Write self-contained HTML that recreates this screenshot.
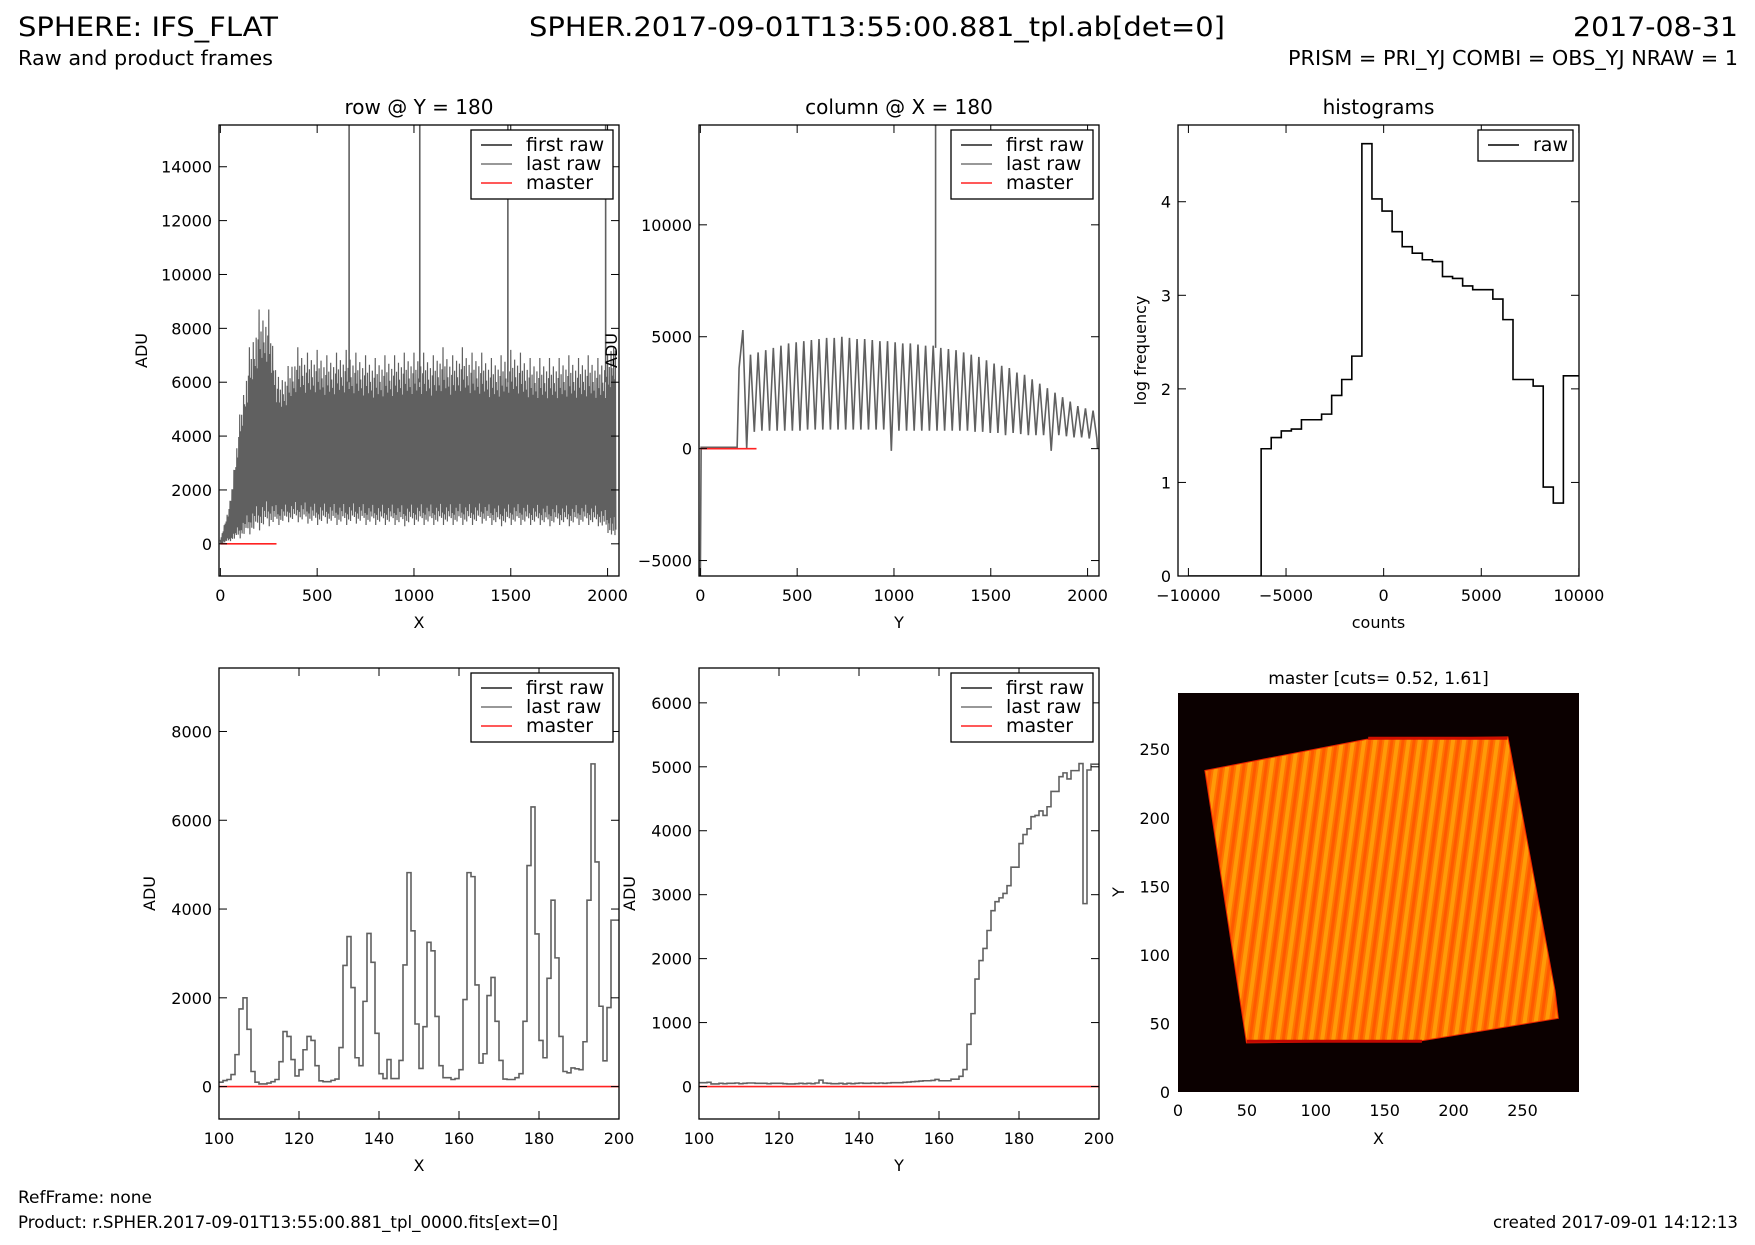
<!DOCTYPE html>
<html><head><meta charset="utf-8"><style>
html,body{margin:0;padding:0;background:#fff;}
svg{display:block;font-family:"DejaVu Sans","Liberation Sans",sans-serif;}
</style></head><body>
<svg id="fig" width="1755" height="1245" viewBox="0 0 1755 1245" xmlns="http://www.w3.org/2000/svg">
<defs>
<pattern id="stripes" patternUnits="userSpaceOnUse" width="11" height="40" patternTransform="rotate(8)">
<rect x="0" y="0" width="11" height="40" fill="#ff7400"/>
<rect x="0" y="0" width="4" height="40" fill="#ff9a08"/>
<rect x="6" y="0" width="3" height="40" fill="#ff5a00"/>
</pattern>
</defs>
<text x="18" y="36" font-size="27" textLength="260" lengthAdjust="spacingAndGlyphs">SPHERE: IFS_FLAT</text>
<text x="877" y="36" font-size="27" text-anchor="middle" textLength="696" lengthAdjust="spacingAndGlyphs">SPHER.2017-09-01T13:55:00.881_tpl.ab[det=0]</text>
<text x="1738" y="36" font-size="27" text-anchor="end" textLength="165" lengthAdjust="spacingAndGlyphs">2017-08-31</text>
<text x="18" y="65" font-size="20" textLength="255" lengthAdjust="spacingAndGlyphs">Raw and product frames</text>
<text x="1738" y="65" font-size="20" text-anchor="end" textLength="450" lengthAdjust="spacingAndGlyphs">PRISM = PRI_YJ COMBI = OBS_YJ NRAW = 1</text>
<text x="18" y="1203" font-size="17">RefFrame: none</text>
<text x="18" y="1228" font-size="17" textLength="540" lengthAdjust="spacingAndGlyphs">Product: r.SPHER.2017-09-01T13:55:00.881_tpl_0000.fits[ext=0]</text>
<text x="1738" y="1228" font-size="17" text-anchor="end" textLength="245" lengthAdjust="spacingAndGlyphs">created 2017-09-01 14:12:13</text>
</svg>
<script>
// ---- data ----
const rowBinX = [0,50,100,150,200,250,300,350,400,450,500,550,600,650,700,750,800,850,900,950,1000,1050,1100,1150,1200,1250,1300,1350,1400,1450,1500,1550,1600,1650,1700,1750,1800,1850,1900,1950,2000,2045];
const rowHi = [150,1600,4800,7300,8700,8700,6200,6600,7300,7100,7200,7000,7100,7200,7100,7000,6900,7000,7000,7100,7100,7100,7000,7300,7000,7300,7100,7100,6900,7000,7200,7100,6900,6900,6900,6900,7000,6900,7000,6900,7000,8300];
const rowLo = [0,100,200,350,500,650,700,800,800,750,700,750,700,700,750,700,700,700,700,650,700,700,700,700,700,700,700,750,700,650,700,700,700,700,650,700,650,700,700,650,400,-100];
const rowSpikeX = [665,1030,1485,1990];
const rowMasterEnd = 290;

const colPeaks = [5300,4200,4300,4400,4500,4600,4700,4750,4800,4850,4900,4950,4950,5000,4950,4900,4900,4850,4800,4800,4750,4700,4700,4650,4600,4600,4500,4450,4400,4300,4200,4100,3950,3800,3700,3600,3400,3300,3100,2900,2700,2500,2300,2100,1900,1800,1700];
const colTroughs = [3600,0,750,800,800,800,800,800,800,850,850,850,850,850,850,850,850,850,850,850,-100,800,800,800,800,800,800,800,800,800,800,750,750,700,700,600,700,650,600,600,600,-100,600,550,500,500,450];
const colSpikeY = [1215];
const colStart = 200, colEnd = 2048;

const histCounts = [1.36,1.48,1.55,1.57,1.67,1.67,1.73,1.93,2.1,2.35,4.62,4.03,3.9,3.68,3.52,3.45,3.38,3.36,3.2,3.18,3.1,3.06,3.06,2.96,2.74,2.1,2.1,2.03,0.95,0.78,2.14,2.14];
const histStart = -6275, histWidth = 516, histFloorStart = -10000;

const zoomRowX0 = 100;
const zoomRow = [100,135,160,270,720,1750,2000,1290,340,100,60,60,80,110,160,560,1240,1130,610,240,380,830,1130,1040,470,130,110,110,140,170,880,2730,3380,2230,650,470,1920,3450,2800,1200,290,180,610,180,180,590,2740,4820,3510,1410,410,1350,3250,3060,1580,470,200,200,160,180,380,1960,4820,4730,2290,530,740,2050,2460,1470,590,170,160,160,200,290,1470,4980,6300,3440,1040,650,2440,4200,2900,1130,340,310,420,400,380,1010,4200,7270,5060,1810,580,1780,3750,3750];
const zoomColX0 = 100;
const zoomCol = [60,60,65,40,40,50,45,50,50,55,45,50,55,55,50,50,50,45,50,50,50,45,40,40,45,50,45,50,45,55,100,55,50,45,45,50,40,50,45,50,55,50,50,55,50,55,50,55,60,60,60,65,70,75,80,85,90,90,95,110,90,90,90,115,115,160,265,660,1140,1680,1970,2160,2440,2750,2890,2950,3020,3140,3430,3430,3800,3940,4030,4220,4240,4310,4240,4375,4615,4615,4845,4905,4810,4940,4940,5050,2860,4950,5040,5040];

const imgOutline = [[19.5,234.5],[136.8,257.3],[239.4,259],[273.6,74],[276,53.7],[177.5,37.5],[49.7,35.8]];

// ---- helpers ----
const NS = 'http://www.w3.org/2000/svg';
const fig = document.getElementById('fig');
function el(tag, attrs, parent){
  const e = document.createElementNS(NS, tag);
  for (const k in attrs) e.setAttribute(k, attrs[k]);
  (parent || fig).appendChild(e);
  return e;
}
function axes(L,R,T,B,xmin,xmax,ymin,ymax){
  return {L,R,T,B,xmin,xmax,ymin,ymax,
    sx: v => L + (v - xmin) / (xmax - xmin) * (R - L),
    sy: v => B - (v - ymin) / (ymax - ymin) * (B - T)};
}
let clipN = 0;
function frame(a, name){
  const g = el('g', {});
  
  
  const cp = el('clipPath', {id: 'cp' + clipN});
  el('rect', {x: a.L, y: a.T, width: a.R - a.L, height: a.B - a.T}, cp);
  const inner = el('g', {'clip-path': 'url(#cp' + clipN + ')'}, g);
  clipN++;
  return {g, inner};
}
function border(a, g){
  const r = el('rect', {x: a.L, y: a.T, width: a.R - a.L, height: a.B - a.T, fill: 'none', stroke: '#000', 'stroke-width': 1.3}, g);
  
  
}
function ticks(a, g, xt, yt, xlab, ylab, ylabX){
  xt.forEach(v => {
    const x = a.sx(v);
    el('line', {x1: x, x2: x, y1: a.B, y2: a.B - 8, stroke: '#000', 'stroke-width': 1}, g);
    el('line', {x1: x, x2: x, y1: a.T, y2: a.T + 8, stroke: '#000', 'stroke-width': 1}, g);
    const t = el('text', {x: x, y: a.B + 25, 'font-size': 16, 'text-anchor': 'middle'}, g);
    t.textContent = v < 0 ? '\u2212' + Math.abs(v) : String(v);
    
    
  });
  yt.forEach(v => {
    const y = a.sy(v);
    el('line', {x1: a.L, x2: a.L + 8, y1: y, y2: y, stroke: '#000', 'stroke-width': 1}, g);
    el('line', {x1: a.R, x2: a.R - 8, y1: y, y2: y, stroke: '#000', 'stroke-width': 1}, g);
    const t = el('text', {x: a.L - 7, y: y + 6, 'font-size': 16, 'text-anchor': 'end'}, g);
    t.textContent = v < 0 ? '\u2212' + Math.abs(v) : String(v);
    
    
  });
  const xl = el('text', {x: (a.L + a.R) / 2, y: a.B + 52, 'font-size': 16, 'text-anchor': 'middle'}, g);
  xl.textContent = xlab;
  
  
  const cy = (a.T + a.B) / 2;
  const yl = el('text', {x: ylabX, y: cy, 'font-size': 16, 'text-anchor': 'middle', transform: 'rotate(-90 ' + ylabX + ' ' + cy + ')'}, g);
  yl.textContent = ylab;
  
  
}
function title(a, g, txt, size, dy){
  const t = el('text', {x: (a.L + a.R) / 2, y: a.T - (dy || 11), 'font-size': size || 20, 'text-anchor': 'middle'}, g);
  t.textContent = txt;
  
  
}
function legend(a, g, entries, w){
  const lg = el('g', {}, g);
  
  
  const x0 = a.R - 6 - w, y0 = a.T + 5;
  el('rect', {x: x0, y: y0, width: w, height: 12 + entries.length * 19, fill: '#fff', stroke: '#000', 'stroke-width': 1.3}, lg);
  entries.forEach((en, i) => {
    const y = y0 + 15 + i * 19;
    el('line', {x1: x0 + 10, x2: x0 + 41, y1: y, y2: y, stroke: en[1], 'stroke-width': 1.6}, lg);
    const t = el('text', {x: x0 + 55, y: y + 6, 'font-size': 19}, lg);
    t.textContent = en[0];
    
    
  });
}
const LEG3 = [['first raw', '#222'], ['last raw', '#777'], ['master', '#f22']];
const GRAY = '#606060';

// ---- panel 1: row ----
(function(){
  const a = axes(219, 619, 125, 576, -7, 2059, -1195, 15550);
  const f = frame(a, 'row-plot');
  const fh = [1, 0.82, 0.9, 0.78, 0.95, 0.85, 0.8, 0.92, 0.76, 0.88];
  const fl = [0, 0.06, 0.03, 0.1, 0.02, 0.08, 0.05, 0.12, 0.04, 0.07];
  let pts = [];
  for (let i = 0; i < rowBinX.length - 1; i++) {
    const x0 = rowBinX[i], x1 = rowBinX[i + 1];
    for (let k = 0; k < 10; k++) {
      const x = x0 + (x1 - x0) * k / 10;
      const t = k / 10;
      const hi = rowHi[i] + (rowHi[i + 1] - rowHi[i]) * t;
      const lo = rowLo[i] + (rowLo[i + 1] - rowLo[i]) * t;
      pts.push(a.sx(x) + ',' + a.sy(lo + (hi - lo) * fh[k]));
      pts.push(a.sx(x + (x1 - x0) / 20) + ',' + a.sy(lo + (hi - lo) * fl[k]));
    }
  }
  const pl = el('polyline', {points: pts.join(' '), fill: 'none', stroke: GRAY, 'stroke-width': 1.2}, f.inner);
  
  
  rowSpikeX.forEach(x => {
    const s = el('line', {x1: a.sx(x), x2: a.sx(x), y1: a.sy(6000), y2: a.sy(16000), stroke: GRAY, 'stroke-width': 1.6}, f.inner);
    
    
  });
  const m = el('line', {x1: a.sx(0), x2: a.sx(rowMasterEnd), y1: a.sy(0), y2: a.sy(0), stroke: '#f22', 'stroke-width': 1.6}, f.inner);
  
  
  border(a, f.g);
  ticks(a, f.g, [0, 500, 1000, 1500, 2000], [0, 2000, 4000, 6000, 8000, 10000, 12000, 14000], 'X', 'ADU', 147);
  title(a, f.g, 'row @ Y = 180');
  legend(a, f.g, LEG3, 142);
})();

// ---- panel 2: column ----
(function(){
  const a = axes(699, 1099, 125, 576, -7, 2059, -5690, 14460);
  const f = frame(a, 'column-plot');
  const per = (colEnd - colStart) / colPeaks.length;
  let pts = [[0, -5690], [4, 60], [190, 60]];
  for (let i = 0; i < colPeaks.length; i++) {
    pts.push([colStart + i * per, colTroughs[i]]);
    pts.push([colStart + (i + 0.5) * per, colPeaks[i]]);
  }
  pts.push([colEnd, colTroughs[colTroughs.length - 1]]);
  pts.push([colEnd + 3, 0]);
  const pl = el('polyline', {points: pts.map(p => a.sx(p[0]) + ',' + a.sy(p[1])).join(' '), fill: 'none', stroke: GRAY, 'stroke-width': 1.6}, f.inner);
  
  
  colSpikeY.forEach(x => {
    const s = el('line', {x1: a.sx(x), x2: a.sx(x), y1: a.sy(4500), y2: a.sy(15000), stroke: GRAY, 'stroke-width': 1.6}, f.inner);
    
    
  });
  const m = el('line', {x1: a.sx(0), x2: a.sx(290), y1: a.sy(0), y2: a.sy(0), stroke: '#f22', 'stroke-width': 1.6}, f.inner);
  
  
  border(a, f.g);
  ticks(a, f.g, [0, 500, 1000, 1500, 2000], [-5000, 0, 5000, 10000], 'Y', 'ADU', 617);
  title(a, f.g, 'column @ X = 180');
  legend(a, f.g, LEG3, 142);
})();

// ---- panel 3: histogram ----
(function(){
  const a = axes(1178, 1579, 125, 576, -10533, 10005, 0, 4.82);
  const f = frame(a, 'histogram-plot');
  let pts = [[histFloorStart, 0], [histStart, 0]];
  histCounts.forEach((c, i) => {
    pts.push([histStart + i * histWidth, c]);
    pts.push([histStart + (i + 1) * histWidth, c]);
  });
  const pl = el('polyline', {points: pts.map(p => a.sx(p[0]) + ',' + a.sy(p[1])).join(' '), fill: 'none', stroke: '#000', 'stroke-width': 1.6}, f.inner);
  
  
  border(a, f.g);
  ticks(a, f.g, [-10000, -5000, 0, 5000, 10000], [0, 1, 2, 3, 4], 'counts', 'log frequency', 1146);
  title(a, f.g, 'histograms');
  legend(a, f.g, [['raw', '#000']], 95);
})();

// ---- step plots ----
function stepPlot(a, f, vals, x0, name){
  let pts = [];
  vals.forEach((v, i) => {
    pts.push(a.sx(x0 + i) + ',' + a.sy(v));
    pts.push(a.sx(x0 + i + 1) + ',' + a.sy(v));
  });
  const pl = el('polyline', {points: pts.join(' '), fill: 'none', stroke: GRAY, 'stroke-width': 1.6}, f.inner);
  
  
  const m = el('line', {x1: a.L, x2: a.R, y1: a.sy(0), y2: a.sy(0), stroke: '#f22', 'stroke-width': 1.6}, f.inner);
  
  
}
(function(){
  const a = axes(219, 619, 668, 1119, 100, 200, -730, 9430);
  const f = frame(a, 'row-zoom-plot');
  stepPlot(a, f, zoomRow, zoomRowX0, 'row-zoom-line');
  border(a, f.g);
  ticks(a, f.g, [100, 120, 140, 160, 180, 200], [0, 2000, 4000, 6000, 8000], 'X', 'ADU', 155);
  legend(a, f.g, LEG3, 142);
})();
(function(){
  const a = axes(699, 1099, 668, 1119, 100, 200, -508, 6545);
  const f = frame(a, 'column-zoom-plot');
  stepPlot(a, f, zoomCol, zoomColX0, 'column-zoom-line');
  border(a, f.g);
  ticks(a, f.g, [100, 120, 140, 160, 180, 200], [0, 1000, 2000, 3000, 4000, 5000, 6000], 'Y', 'ADU', 635);
  legend(a, f.g, LEG3, 142);
})();

// ---- image panel ----
(function(){
  const a = axes(1178, 1579, 693, 1092, 0, 291, 0, 291);
  const f = frame(a, 'master-image');
  const bg = el('rect', {x: a.L, y: a.T, width: a.R - a.L, height: a.B - a.T, fill: '#0b0000'}, f.inner);
  
  
  const poly = el('polygon', {points: imgOutline.map(p => a.sx(p[0]) + ',' + a.sy(p[1])).join(' '), fill: 'url(#stripes)', stroke: '#e82000', 'stroke-width': 1}, f.inner);
  
  
  const top = el('line', {x1: a.sx(138), x2: a.sx(239), y1: a.sy(258), y2: a.sy(258), stroke: '#d01000', 'stroke-width': 3}, f.inner);
  
  
  const bot = el('line', {x1: a.sx(50), x2: a.sx(177), y1: a.sy(37), y2: a.sy(37), stroke: '#c00800', 'stroke-width': 3}, f.inner);
  
  
  const tks = [0, 50, 100, 150, 200, 250];
  tks.forEach(v => {
    const tx = el('text', {x: a.sx(v), y: a.B + 24, 'font-size': 16, 'text-anchor': 'middle'}, f.g);
    tx.textContent = String(v);
    
    
    const ty = el('text', {x: a.L - 8, y: a.sy(v) + 6, 'font-size': 16, 'text-anchor': 'end'}, f.g);
    ty.textContent = String(v);
    
    
  });
  const xl = el('text', {x: (a.L + a.R) / 2, y: a.B + 52, 'font-size': 16, 'text-anchor': 'middle'}, f.g);
  xl.textContent = 'X';
  
  
  const yl = el('text', {x: 1124, y: 892, 'font-size': 16, 'text-anchor': 'middle', transform: 'rotate(-90 1124 892)'}, f.g);
  yl.textContent = 'Y';
  
  
  title(a, f.g, 'master [cuts= 0.52, 1.61]', 17, 9);
})();
</script>
</body></html>
